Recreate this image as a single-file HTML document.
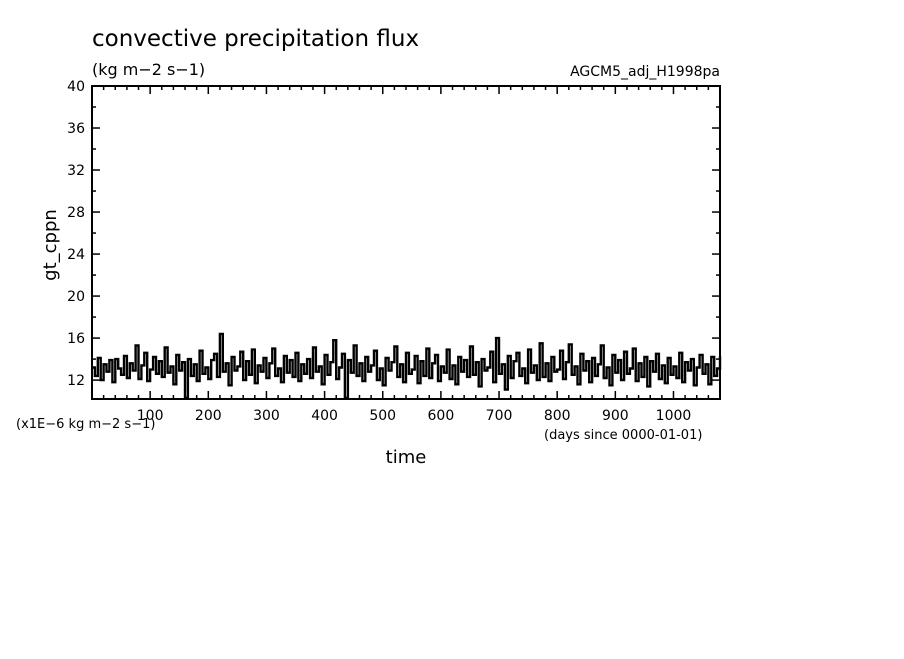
<!DOCTYPE html>
<html><head><meta charset="utf-8"><style>
body{margin:0;background:#fff;}
svg text{font-family:"DejaVu Sans","Liberation Sans",sans-serif;fill:#000;}
</style></head><body>
<svg width="904" height="654" viewBox="0 0 904 654">
<text x="92" y="46" font-size="23">convective precipitation flux</text>
<text x="92" y="75" font-size="16">(kg m−2 s−1)</text>
<text x="720" y="76" font-size="14" text-anchor="end">AGCM5_adj_H1998pa</text>
<g id="axes"></g>
<path id="series" fill="none" stroke="#000" stroke-width="2.4"/>
<rect x="92" y="86" width="628" height="313" fill="none" stroke="#000" stroke-width="2"/>
<text x="56" y="245" font-size="18" text-anchor="middle" transform="rotate(-90 56 245)">gt_cppn</text>
<text x="406" y="463" font-size="18" text-anchor="middle">time</text>
<text x="16" y="428" font-size="13">(x1E−6 kg m−2 s−1)</text>
<text x="544" y="439" font-size="13">(days since 0000-01-01)</text>
</svg>
<script>
const xTicks=[100,200,300,400,500,600,700,800,900,1000];
const yTicks=[12,16,20,24,28,32,36,40];
const step=5;
const values=[
13.2,12.4,14.1,12.0,13.5,12.8,13.9,11.8,14.0,13.1,12.5,14.3,12.2,13.6,12.9,15.3,12.1,13.4,14.6,11.9,
13.0,14.2,12.6,13.8,12.3,15.1,12.7,13.3,11.6,14.4,12.9,13.7,10.3,14.0,12.4,13.5,11.9,14.8,12.6,13.2,
12.1,13.9,14.5,12.3,16.4,12.8,13.6,11.5,14.2,12.9,13.3,14.7,12.0,13.8,12.5,14.9,11.7,13.4,12.8,14.1,
12.2,13.6,15.0,12.4,13.1,11.8,14.3,12.7,13.9,12.3,14.6,11.9,13.5,12.6,14.0,12.2,15.1,12.8,13.3,11.6,
14.4,12.5,13.7,15.8,12.1,13.2,14.5,10.3,13.9,12.7,15.3,12.4,13.6,11.9,14.2,12.8,13.4,14.8,12.0,13.1,
11.5,14.1,12.9,13.7,15.2,12.3,13.5,11.8,14.6,12.6,13.0,14.3,11.7,13.8,12.4,15.0,12.2,13.6,14.4,11.9,
13.3,12.7,14.9,12.1,13.4,11.6,14.2,12.8,13.9,12.3,15.2,12.5,13.7,11.4,14.0,12.9,13.2,14.7,11.8,16.0,
12.6,13.5,11.1,14.3,12.2,13.8,14.6,12.4,13.1,11.7,14.9,12.7,13.4,12.0,15.5,12.3,13.6,11.9,14.2,12.8,
13.0,14.8,12.1,13.7,15.4,12.5,13.3,11.6,14.5,12.9,13.8,11.8,14.1,12.4,13.5,15.3,12.2,13.2,11.5,14.4,
12.7,13.9,12.0,14.7,12.6,13.1,15.0,11.9,13.6,12.3,14.2,11.4,13.8,12.8,14.5,12.1,13.4,11.7,14.1,12.5,
13.3,12.2,14.6,11.8,13.7,12.9,14.0,11.5,13.2,14.4,12.6,13.5,11.6,14.2,12.4,13.1,14.3
];
const X0=92,X1=720,Y0=399,Y1=86,XMAX=1080,YMIN=10.2,YMAX=40;
const xs=v=>X0+(v/XMAX)*(X1-X0);
const ys=v=>Y0-(v-YMIN)/(YMAX-YMIN)*(Y0-Y1);
const NS="http://www.w3.org/2000/svg";
const axes=document.getElementById('axes');
function ln(x1,y1,x2,y2,name){const l=document.createElementNS(NS,'line');
l.setAttribute('x1',x1);l.setAttribute('y1',y1);l.setAttribute('x2',x2);l.setAttribute('y2',y2);
l.setAttribute('stroke','#000');l.setAttribute('stroke-width','1.5');


axes.appendChild(l);}
for(let d=20;d<XMAX;d+=20){const big=d%100===0;const L=big?8:4;const x=xs(d);
ln(x,Y0,x,Y0-L,'x-tick');ln(x,Y1,x,Y1+L,'x-tick-top');}
for(let v=12;v<40;v+=2){const big=v%4===0;const L=big?8:4;const y=ys(v);
ln(X0,y,X0+L,y,'y-tick');ln(X1,y,X1-L,y,'y-tick-right');}
xTicks.forEach(t=>{const e=document.createElementNS(NS,'text');
e.setAttribute('x',xs(t));e.setAttribute('y',420);e.setAttribute('font-size','14');e.setAttribute('text-anchor','middle');
e.textContent=t;


axes.appendChild(e);});
yTicks.forEach(t=>{const e=document.createElementNS(NS,'text');
e.setAttribute('x',85);e.setAttribute('y',ys(t)+5);e.setAttribute('font-size','14');e.setAttribute('text-anchor','end');
e.textContent=t;


axes.appendChild(e);});
let d='';
values.forEach((v,i)=>{const xa=xs(Math.min(i*step,XMAX)),xb=xs(Math.min(i*step+step,XMAX)),y=ys(v);
d+=(i===0?'M':'L')+xa.toFixed(1)+','+y.toFixed(1)+'L'+xb.toFixed(1)+','+y.toFixed(1);});
document.getElementById('series').setAttribute('d',d);
</script>
</body></html>
